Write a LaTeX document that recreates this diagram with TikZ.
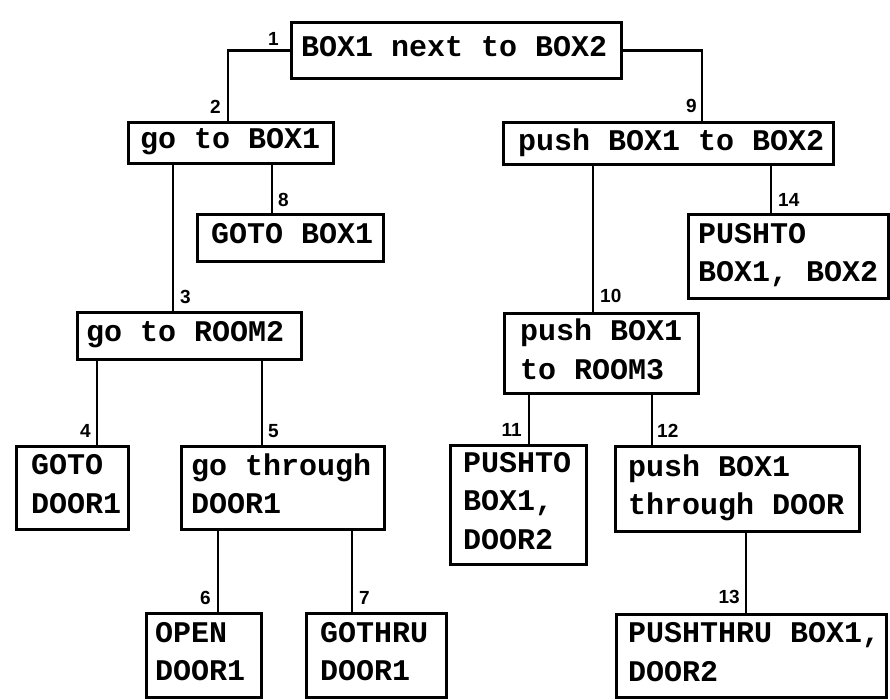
\documentclass[tikz,border=0pt]{standalone}
\usepackage{fontspec}
\newfontfamily\boxfont{Liberation Mono}
\newfontfamily\numfont{Liberation Sans}
\newcommand\sT{\rule[-8pt]{0pt}{28pt}}
\begin{document}
\begin{tikzpicture}[x=1pt,y=-1pt,
  box/.style={draw, line width=2.5pt, anchor=north west, inner sep=0pt},
  txt/.style={anchor=west, align=left, inner sep=0pt, font=\boxfont\bfseries\fontsize{30}{38.5}\selectfont},
  conn/.style={line width=2.5pt},
  lblL/.style={anchor=south east, inner sep=0pt, font=\numfont\bfseries\fontsize{19}{19}\selectfont},
  lblR/.style={anchor=south west, inner sep=0pt, font=\numfont\bfseries\fontsize{19}{19}\selectfont}]
\useasboundingbox (0,0) rectangle (890,699);
% boxes
\node[box, minimum width=330pt, minimum height=56pt] (b1) at (290,21) {};
\node[box, minimum width=205pt, minimum height=41pt] (b2) at (127,121) {};
\node[box, minimum width=330pt, minimum height=42pt] (b9) at (502,121) {};
\node[box, minimum width=186pt, minimum height=47pt] (b8) at (196,213) {};
\node[box, minimum width=200pt, minimum height=84pt] (b14) at (687,213) {};
\node[box, minimum width=224pt, minimum height=47pt] (b3) at (76,311) {};
\node[box, minimum width=194pt, minimum height=80pt] (b10) at (503,312) {};
\node[box, minimum width=112pt, minimum height=83pt] (b4) at (15,445) {};
\node[box, minimum width=203pt, minimum height=83pt] (b5) at (180,445) {};
\node[box, minimum width=136pt, minimum height=119pt] (b11) at (449,444) {};
\node[box, minimum width=244pt, minimum height=85pt] (b12) at (614,445) {};
\node[box, minimum width=115pt, minimum height=84pt] (b6) at (145,612) {};
\node[box, minimum width=140pt, minimum height=84pt] (b7) at (305,612) {};
\node[box, minimum width=270pt, minimum height=83pt] (b13) at (615,613) {};
% texts
\node[txt] (t1) at ([xshift=11pt]b1.west) {\sT BOX1 next to BOX2};
\node[txt] (t2) at ([xshift=13pt]b2.west) {\sT go to BOX1};
\node[txt] (t9) at ([xshift=16pt]b9.west) {\sT push BOX1 to BOX2};
\node[txt] (t8) at ([xshift=15pt]b8.west) {\sT GOTO BOX1};
\node[txt] (t14) at ([xshift=11pt]b14.west) {\sT PUSHTO\\BOX1, BOX2\sT};
\node[txt] (t3) at ([xshift=10pt]b3.west) {\sT go to ROOM2};
\node[txt] (t10) at ([xshift=17pt]b10.west) {\sT push BOX1\\to ROOM3\sT};
\node[txt] (t4) at ([xshift=16pt]b4.west) {\sT GOTO\\DOOR1\sT};
\node[txt] (t5) at ([xshift=11pt]b5.west) {\sT go through\\DOOR1\sT};
\node[txt] (t11) at ([xshift=14pt]b11.west) {\sT PUSHTO\\BOX1,\\DOOR2\sT};
\node[txt] (t12) at ([xshift=14pt]b12.west) {\sT push BOX1\\through DOOR\sT};
\node[txt] (t6) at ([xshift=10pt]b6.west) {\sT OPEN\\DOOR1\sT};
\node[txt] (t7) at ([xshift=15pt]b7.west) {\sT GOTHRU\\DOOR1\sT};
\node[txt] (t13) at ([xshift=13pt]b13.west) {\sT PUSHTHRU BOX1,\\DOOR2\sT};
% connector tops
\coordinate (c2) at ([xshift=101pt]b2.north west);
\coordinate (c9) at ([xshift=200pt]b9.north west);
\coordinate (c8) at ([xshift=76pt]b8.north west);
\coordinate (c3) at ([xshift=97pt]b3.north west);
\coordinate (c14) at ([xshift=84pt]b14.north west);
\coordinate (c10) at ([xshift=90pt]b10.north west);
\coordinate (c4) at ([xshift=82pt]b4.north west);
\coordinate (c5) at ([xshift=82pt]b5.north west);
\coordinate (c6) at ([xshift=73pt]b6.north west);
\coordinate (c7) at ([xshift=47pt]b7.north west);
\coordinate (c11) at ([xshift=80pt]b11.north west);
\coordinate (c12) at ([xshift=38pt]b12.north west);
\coordinate (c13) at ([xshift=131pt]b13.north west);
% connectors
\draw[conn] (b1.west) -| (c2);
\draw[conn] (b1.east) -| (c9);
\draw[conn] (c8 |- b2.south) -- (c8);
\draw[conn] (c3 |- b2.south) -- (c3);
\draw[conn] (c14 |- b9.south) -- (c14);
\draw[conn] (c10 |- b9.south) -- (c10);
\draw[conn] (c4 |- b3.south) -- (c4);
\draw[conn] (c5 |- b3.south) -- (c5);
\draw[conn] (c6 |- b5.south) -- (c6);
\draw[conn] (c7 |- b5.south) -- (c7);
\draw[conn] (c11 |- b10.south) -- (c11);
\draw[conn] (c12 |- b10.south) -- (c12);
\draw[conn] (c13 |- b12.south) -- (c13);
% labels
\node[lblL] (n1) at ([xshift=-11pt,yshift=5pt]b1.west) {1};
\node[lblL] (n2) at ([xshift=-7pt,yshift=7pt]c2) {2};
\node[lblR] (n3) at ([xshift=7pt,yshift=7pt]c3) {3};
\node[lblL] (n4) at ([xshift=-6pt,yshift=7pt]c4) {4};
\node[lblR] (n5) at ([xshift=6pt,yshift=7pt]c5) {5};
\node[lblL] (n6) at ([xshift=-7pt,yshift=7pt]c6) {6};
\node[lblR] (n7) at ([xshift=7pt,yshift=7pt]c7) {7};
\node[lblR] (n8) at ([xshift=6pt,yshift=6pt]c8) {8};
\node[lblL] (n9) at ([xshift=-5pt,yshift=8pt]c9) {9};
\node[lblR] (n10) at ([xshift=7pt,yshift=9pt]c10) {10};
\node[lblL] (n11) at ([xshift=-7pt,yshift=7pt]c11) {11};
\node[lblR] (n12) at ([xshift=5pt,yshift=7pt]c12) {12};
\node[lblL] (n13) at ([xshift=-6pt,yshift=9pt]c13) {13};
\node[lblR] (n14) at ([xshift=7pt,yshift=6pt]c14) {14};
\end{tikzpicture}
\end{document}
